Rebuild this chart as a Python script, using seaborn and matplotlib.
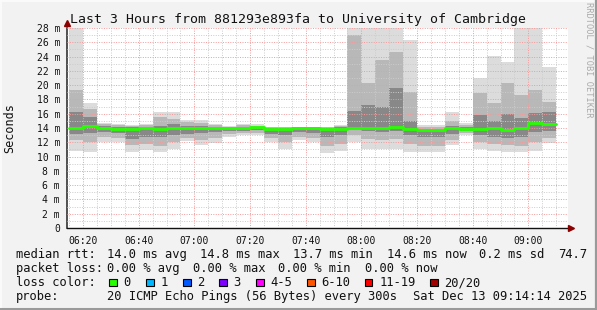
import matplotlib
matplotlib.use('Agg')
import matplotlib.pyplot as plt
import seaborn as sns
import pandas as pd
import numpy as np
from matplotlib.patches import Rectangle
from matplotlib.lines import Line2D

# ---------------- data ----------------
# 5-minute slots, start time in minutes after 06:00 (06:15 ... 09:05)
slot_start = list(range(15, 190, 5))

ping_min = [10.8, 10.7, 12.0, 12.0, 10.7, 10.9, 10.6, 11.0, 12.2, 11.6,
            11.9, 12.8, 13.0, 13.0, 12.1, 11.0, 12.3, 12.1, 10.5, 10.8,
            12.0, 11.0, 11.0, 11.0, 10.7, 10.6, 10.6, 11.6, 13.0, 11.0,
            10.8, 10.6, 10.6, 10.8, 11.9]
ping_p10 = [12.3, 12.0, 12.8, 12.6, 11.6, 11.8, 11.5, 12.0, 12.6, 12.3,
            12.6, 13.2, 13.3, 13.3, 12.6, 12.0, 12.8, 12.6, 11.5, 11.8,
            13.0, 12.5, 12.3, 12.5, 11.8, 11.5, 11.5, 12.3, 13.3, 12.0,
            11.8, 11.6, 11.5, 12.0, 12.6]
ping_p25 = [13.2, 13.3, 13.4, 13.3, 12.4, 12.8, 12.8, 13.0, 13.2, 13.3,
            13.4, 13.6, 13.6, 13.7, 13.2, 13.0, 13.4, 13.3, 12.8, 13.0,
            13.8, 13.6, 13.5, 13.6, 13.0, 12.8, 12.8, 13.2, 13.6, 13.0,
            12.8, 12.6, 12.8, 13.5, 13.6]
ping_median = [14.0, 14.3, 14.0, 13.9, 13.9, 14.0, 13.9, 14.0, 14.0, 14.0,
               14.0, 14.0, 14.0, 14.1, 13.9, 13.8, 14.0, 14.0, 13.9, 13.9,
               14.0, 14.0, 14.0, 14.2, 13.9, 13.7, 13.7, 14.0, 13.9, 13.9,
               14.05, 13.7, 14.05, 14.75, 14.6]
ping_p75 = [16.2, 15.5, 14.3, 14.2, 14.1, 14.2, 14.3, 14.6, 14.3, 14.3,
            14.2, 14.1, 14.2, 14.2, 14.0, 14.0, 14.1, 14.1, 14.0, 14.1,
            16.4, 17.2, 17.0, 19.6, 15.0, 13.9, 13.9, 14.3, 14.1, 15.8,
            15.0, 16.0, 15.4, 16.1, 16.2]
ping_p90 = [19.3, 16.7, 14.6, 14.4, 14.3, 14.4, 15.5, 15.3, 14.8, 14.7,
            14.4, 14.2, 14.4, 14.3, 14.1, 14.1, 14.1, 14.2, 14.1, 14.3,
            27.0, 20.3, 23.5, 24.7, 19.1, 14.1, 14.1, 15.0, 14.4, 18.9,
            17.5, 20.3, 18.6, 19.3, 17.7]
ping_max = [30.0, 17.5, 14.75, 14.6, 14.4, 14.6, 16.2, 16.2, 15.1, 15.1,
            14.5, 14.3, 14.6, 14.5, 14.2, 14.2, 14.2, 14.2, 14.2, 14.4,
            30.0, 30.0, 30.0, 30.0, 26.3, 14.4, 14.4, 16.2, 14.75, 21.05,
            24.1, 23.3, 28.5, 28.5, 22.5]

tick_pos = [20, 40, 60, 80, 100, 120, 140, 160, 180]
tick_labels = ['06:20', '06:40', '07:00', '07:20', '07:40',
               '08:00', '08:20', '08:40', '09:00']

loss_labels = ['0', '1', '2', '3', '4-5', '6-10', '11-19', '20/20']
loss_colors = ['#26ff00', '#00b8ff', '#0059ff', '#7e00ff',
               '#ff00ff', '#ff5500', '#ff0000', '#a10000']

title = 'Last 3 Hours from 881293e893fa to University of Cambridge'
median_line = ['median rtt:', '14.0 ms avg', '14.8 ms max', '13.7 ms min',
               '14.6 ms now', '0.2 ms sd', '74.7']
loss_line = ['packet loss:', '0.00 % avg', '0.00 % max', '0.00 % min', '0.00 % now']
probe_line = ['probe:', '20 ICMP Echo Pings (56 Bytes) every 300s',
              'Sat Dec 13 09:14:14 2025']

# ---------------- style ----------------
sns.set_style('white')
plt.rcParams['font.family'] = ['DejaVu Sans Mono']
mono = 'DejaVu Sans Mono'

W, H = 597, 310
fig = plt.figure(figsize=(W / 100, H / 100), dpi=100, facecolor='#f2f2f2')
ax = fig.add_axes([67 / W, (H - 228) / H, 501 / W, 200 / H])
ax.set_facecolor('white')

starts = np.array(slot_start, dtype=float)
lo_hi = [(ping_min, ping_max, '#dcdcdc'),
         (ping_p10, ping_p90, '#b8b8b8'),
         (ping_p25, ping_p75, '#888888')]
for lo, hi, col in lo_hi:
    lo = np.array(lo); hi = np.array(hi)
    ax.bar(starts, hi - lo, bottom=lo, width=5, align='edge',
           color=col, linewidth=0, zorder=1)

# median line (steps)
med_df = pd.DataFrame({'t': list(starts) + [starts[-1] + 5],
                       'rtt': ping_median + [ping_median[-1]]})
sns.lineplot(data=med_df, x='t', y='rtt', ax=ax, color='#26ff00',
             linewidth=2.0, drawstyle='steps-post', sort=False,
             estimator=None, zorder=4)

ax.set_xlim(14.23, 194.23)
ax.set_ylim(0, 28)
ax.set_xticks(tick_pos)
ax.set_xticklabels(tick_labels, fontsize=7, family=mono)
ax.set_xticks(np.arange(15, 195, 5), minor=True)
yt = list(range(0, 29, 2))
ax.set_yticks(yt)
ax.set_yticklabels([f'{v} m' if v else '0' for v in yt], fontsize=7, family=mono)
ax.set_yticks(range(0, 29), minor=True)
ax.set_xlabel('')
ax.set_ylabel('')

ax.set_axisbelow(False)
ax.grid(which='minor', color='#cccccc', linestyle=(0, (1, 1.5)), linewidth=0.7, zorder=2)
ax.grid(which='major', color='#f29a9a', linestyle=(0, (1, 1.5)), linewidth=0.7, zorder=2.1)

ax.tick_params(axis='both', which='major', direction='out', length=3,
               width=0.7, color='#777777', pad=2, labelcolor='#111111')
ax.tick_params(axis='both', which='minor', direction='out', length=2,
               width=0.6, color='#999999')
ax.tick_params(axis='x', which='major', pad=3)

for s in ['top', 'right']:
    ax.spines[s].set_visible(False)
ax.spines['left'].set_color('#333333')
ax.spines['left'].set_linewidth(1.2)
ax.spines['bottom'].set_color('#111111')
ax.spines['bottom'].set_linewidth(1.0)
ax.spines['bottom'].set_bounds(14.23, 194.23 + 1.2)

# axis arrows
ax.plot([0], [1.025], marker='^', markersize=4.5, color='#8b0000',
        transform=ax.transAxes, clip_on=False, zorder=6)
ax.plot([1.006], [0], marker='>', markersize=4.5, color='#8b0000',
        transform=ax.transAxes, clip_on=False, zorder=6)

# title and labels
fig.text(298 / W, (H - 19) / H, title, ha='center', va='center',
         fontsize=9.5, family=mono, color='#111111')
fig.text(10 / W, (H - 128) / H, 'Seconds', rotation=90, ha='center',
         va='center', fontsize=8.5, family=mono, color='#111111')
fig.text(589 / W, (H - 60) / H, 'RRDTOOL / TOBI OETIKER', rotation=270,
         ha='center', va='center', fontsize=6.2, family=mono, color='#aaaaaa')

def row(items, xs, yc):
    for t, x in zip(items, xs):
        fig.text(x / W, (H - yc) / H, t, ha='left', va='center',
                 fontsize=8.7, family=mono, color='#111111')

row(median_line, [16, 107, 200, 293, 387, 479, 558], 254.5)
row(loss_line, [16, 107, 193, 278, 365], 268.5)
row(['loss color:'], [16], 282.5)
row(probe_line, [16, 107, 413], 296.5)

box_x = [109, 146, 183, 219, 256, 307, 365, 430]
for lab, col, bx in zip(loss_labels, loss_colors, box_x):
    fig.patches.append(Rectangle((bx / W, (H - 286.3) / H), 7.5 / W, 7.5 / H,
                                 transform=fig.transFigure, facecolor=col,
                                 edgecolor='black', linewidth=0.8))
    fig.text((bx + 14.5) / W, (H - 282.5) / H, lab, ha='left', va='center',
             fontsize=8.7, family=mono, color='#111111')

# 3D frame
fig.add_artist(Line2D([0, 1], [1 - 0.5 / H, 1 - 0.5 / H], transform=fig.transFigure,
                      color='#fcfcfc', linewidth=1.2))
fig.add_artist(Line2D([0.5 / W, 0.5 / W], [0, 1], transform=fig.transFigure,
                      color='#fcfcfc', linewidth=1.2))
fig.add_artist(Line2D([1 - 1 / W, 1 - 1 / W], [0, 1], transform=fig.transFigure,
                      color='#9a9a9a', linewidth=1.6))
fig.add_artist(Line2D([0, 1], [1.5 / H, 1.5 / H], transform=fig.transFigure,
                      color='#9a9a9a', linewidth=2.2))

fig.savefig('out.png', dpi=100, facecolor=fig.get_facecolor())
